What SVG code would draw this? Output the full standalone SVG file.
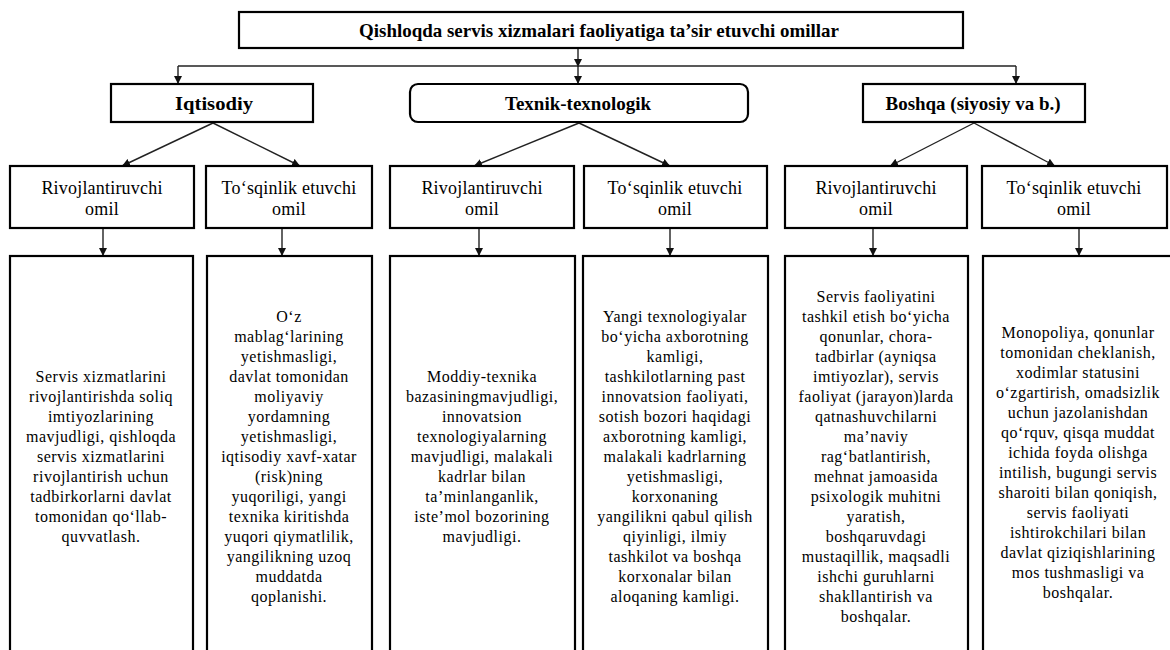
<svg xmlns="http://www.w3.org/2000/svg" width="1170" height="650" viewBox="0 0 1170 650">
<defs>
<marker id="ah" viewBox="0 0 10 10" refX="10" refY="5" markerWidth="8" markerHeight="8" markerUnits="userSpaceOnUse" orient="auto"><path d="M0,0 L10,5 L0,10 z" fill="#111"/></marker>
<style>
.box{fill:#fff;stroke:#000;stroke-width:2.2}
.hd{font-family:"Liberation Serif","Times New Roman",serif;font-weight:bold;font-size:19px;fill:#000;text-anchor:middle}
.lb{font-family:"Liberation Serif","Times New Roman",serif;font-size:18px;fill:#000;text-anchor:middle;letter-spacing:0.2px}
.tx{font-family:"Liberation Serif","Times New Roman",serif;font-size:16px;fill:#000;text-anchor:middle;letter-spacing:0.5px}
.cn{stroke:#222;stroke-width:1.4;fill:none}
</style>
</defs>
<rect width="1170" height="650" fill="#fff"/>

<g id="connectors">
<line class="cn" x1="578" y1="48" x2="578" y2="67" marker-end="url(#ah)"/>
<line class="cn" x1="178" y1="66" x2="1016" y2="66"/>
<line class="cn" x1="178" y1="66" x2="178" y2="84" marker-end="url(#ah)"/>
<line class="cn" x1="578" y1="66" x2="578" y2="84" marker-end="url(#ah)"/>
<line class="cn" x1="1016" y1="66" x2="1016" y2="84" marker-end="url(#ah)"/>
<line class="cn" x1="213" y1="123" x2="122" y2="166" marker-end="url(#ah)"/>
<line class="cn" x1="213" y1="123" x2="300" y2="166" marker-end="url(#ah)"/>
<line class="cn" x1="579" y1="123" x2="474" y2="166" marker-end="url(#ah)"/>
<line class="cn" x1="579" y1="123" x2="670" y2="166" marker-end="url(#ah)"/>
<line class="cn" x1="974" y1="123" x2="890" y2="166" marker-end="url(#ah)"/>
<line class="cn" x1="974" y1="123" x2="1055" y2="166" marker-end="url(#ah)"/>
<line class="cn" x1="103" y1="228" x2="103" y2="256" marker-end="url(#ah)"/>
<line class="cn" x1="282" y1="228" x2="282" y2="256" marker-end="url(#ah)"/>
<line class="cn" x1="479" y1="228" x2="479" y2="256" marker-end="url(#ah)"/>
<line class="cn" x1="670" y1="228" x2="670" y2="256" marker-end="url(#ah)"/>
<line class="cn" x1="873" y1="228" x2="873" y2="256" marker-end="url(#ah)"/>
<line class="cn" x1="1079" y1="228" x2="1079" y2="256" marker-end="url(#ah)"/>
</g>

<g id="title">
<rect class="box" x="239" y="12" width="724" height="36" stroke-width="2.6"/>
<text class="hd" x="599" y="37" textLength="480" lengthAdjust="spacingAndGlyphs">Qishloqda servis xizmalari  faoliyatiga ta’sir etuvchi omillar</text>
</g>

<g id="iqtisodiy">
<rect class="box" x="111" y="84" width="202" height="38" stroke-width="2.6"/>
<text class="hd" x="214" y="110" textLength="78" lengthAdjust="spacingAndGlyphs">Iqtisodiy</text>
</g>
<g id="texnik">
<rect class="box" x="410" y="84" width="338" height="38" rx="8" stroke-width="2.6"/>
<text class="hd" x="578" y="110" textLength="146" lengthAdjust="spacingAndGlyphs">Texnik-texnologik</text>
</g>
<g id="boshqa">
<rect class="box" x="863" y="84" width="222" height="38" stroke-width="2.6"/>
<text class="hd" x="973" y="110" textLength="175" lengthAdjust="spacingAndGlyphs">Boshqa (siyosiy va b.)</text>
</g>

<g id="l3-1"><rect class="box" x="10" y="166" width="184" height="62"/><text class="lb" x="102" y="194">Rivojlantiruvchi<tspan x="102" dy="21">omil</tspan></text></g>
<g id="l3-2"><rect class="box" x="206" y="166" width="166" height="62"/><text class="lb" x="289" y="194">To‘sqinlik etuvchi<tspan x="289" dy="21">omil</tspan></text></g>
<g id="l3-3"><rect class="box" x="390" y="166" width="184" height="62"/><text class="lb" x="482" y="194">Rivojlantiruvchi<tspan x="482" dy="21">omil</tspan></text></g>
<g id="l3-4"><rect class="box" x="584" y="166" width="183" height="62"/><text class="lb" x="675" y="194">To‘sqinlik etuvchi<tspan x="675" dy="21">omil</tspan></text></g>
<g id="l3-5"><rect class="box" x="785" y="166" width="182" height="62"/><text class="lb" x="876" y="194">Rivojlantiruvchi<tspan x="876" dy="21">omil</tspan></text></g>
<g id="l3-6"><rect class="box" x="982" y="166" width="185" height="62"/><text class="lb" x="1074" y="194">To‘sqinlik etuvchi<tspan x="1074" dy="21">omil</tspan></text></g>

<g id="t1"><rect class="box" x="10" y="256" width="183" height="410"/>
<text class="tx" x="101" y="382"><tspan x="101">Servis xizmatlarini</tspan><tspan x="101" dy="20">rivojlantirishda soliq</tspan><tspan x="101" dy="20">imtiyozlarining</tspan><tspan x="101" dy="20">mavjudligi, qishloqda</tspan><tspan x="101" dy="20">servis xizmatlarini</tspan><tspan x="101" dy="20">rivojlantirish uchun</tspan><tspan x="101" dy="20">tadbirkorlarni davlat</tspan><tspan x="101" dy="20">tomonidan qo‘llab-</tspan><tspan x="101" dy="20">quvvatlash.</tspan></text></g>

<g id="t2"><rect class="box" x="207" y="256" width="165" height="410"/>
<text class="tx" x="289" y="322"><tspan x="289">O‘z</tspan><tspan x="289" dy="20">mablag‘larining</tspan><tspan x="289" dy="20">yetishmasligi,</tspan><tspan x="289" dy="20">davlat tomonidan</tspan><tspan x="289" dy="20">moliyaviy</tspan><tspan x="289" dy="20">yordamning</tspan><tspan x="289" dy="20">yetishmasligi,</tspan><tspan x="289" dy="20">iqtisodiy xavf-xatar</tspan><tspan x="289" dy="20">(risk)ning</tspan><tspan x="289" dy="20">yuqoriligi, yangi</tspan><tspan x="289" dy="20">texnika kiritishda</tspan><tspan x="289" dy="20">yuqori qiymatlilik,</tspan><tspan x="289" dy="20">yangilikning uzoq</tspan><tspan x="289" dy="20">muddatda</tspan><tspan x="289" dy="20">qoplanishi.</tspan></text></g>

<g id="t3"><rect class="box" x="390" y="256" width="185" height="410"/>
<text class="tx" x="482" y="382"><tspan x="482">Moddiy-texnika</tspan><tspan x="482" dy="20">bazasiningmavjudligi,</tspan><tspan x="482" dy="20">innovatsion</tspan><tspan x="482" dy="20">texnologiyalarning</tspan><tspan x="482" dy="20">mavjudligi, malakali</tspan><tspan x="482" dy="20">kadrlar bilan</tspan><tspan x="482" dy="20">ta’minlanganlik,</tspan><tspan x="482" dy="20">iste’mol bozorining</tspan><tspan x="482" dy="20">mavjudligi.</tspan></text></g>

<g id="t4"><rect class="box" x="583" y="256" width="185" height="410"/>
<text class="tx" x="675" y="322"><tspan x="675">Yangi texnologiyalar</tspan><tspan x="675" dy="20">bo‘yicha axborotning</tspan><tspan x="675" dy="20">kamligi,</tspan><tspan x="675" dy="20">tashkilotlarning past</tspan><tspan x="675" dy="20">innovatsion faoliyati,</tspan><tspan x="675" dy="20">sotish bozori haqidagi</tspan><tspan x="675" dy="20">axborotning kamligi,</tspan><tspan x="675" dy="20">malakali kadrlarning</tspan><tspan x="675" dy="20">yetishmasligi,</tspan><tspan x="675" dy="20">korxonaning</tspan><tspan x="675" dy="20">yangilikni qabul qilish</tspan><tspan x="675" dy="20">qiyinligi, ilmiy</tspan><tspan x="675" dy="20">tashkilot va boshqa</tspan><tspan x="675" dy="20">korxonalar bilan</tspan><tspan x="675" dy="20">aloqaning kamligi.</tspan></text></g>

<g id="t5"><rect class="box" x="785" y="256" width="183" height="410"/>
<text class="tx" x="876" y="302"><tspan x="876">Servis faoliyatini</tspan><tspan x="876" dy="20">tashkil etish bo‘yicha</tspan><tspan x="876" dy="20">qonunlar, chora-</tspan><tspan x="876" dy="20">tadbirlar (ayniqsa</tspan><tspan x="876" dy="20">imtiyozlar), servis</tspan><tspan x="876" dy="20">faoliyat (jarayon)larda</tspan><tspan x="876" dy="20">qatnashuvchilarni</tspan><tspan x="876" dy="20">ma’naviy</tspan><tspan x="876" dy="20">rag‘batlantirish,</tspan><tspan x="876" dy="20">mehnat jamoasida</tspan><tspan x="876" dy="20">psixologik muhitni</tspan><tspan x="876" dy="20">yaratish,</tspan><tspan x="876" dy="20">boshqaruvdagi</tspan><tspan x="876" dy="20">mustaqillik, maqsadli</tspan><tspan x="876" dy="20">ishchi guruhlarni</tspan><tspan x="876" dy="20">shakllantirish va</tspan><tspan x="876" dy="20">boshqalar.</tspan></text></g>

<g id="t6"><rect class="box" x="983" y="256" width="200" height="410"/>
<text class="tx" x="1078" y="338"><tspan x="1078">Monopoliya, qonunlar</tspan><tspan x="1078" dy="20">tomonidan cheklanish,</tspan><tspan x="1078" dy="20">xodimlar statusini</tspan><tspan x="1078" dy="20">o‘zgartirish, omadsizlik</tspan><tspan x="1078" dy="20">uchun jazolanishdan</tspan><tspan x="1078" dy="20">qo‘rquv, qisqa muddat</tspan><tspan x="1078" dy="20">ichida foyda olishga</tspan><tspan x="1078" dy="20">intilish, bugungi servis</tspan><tspan x="1078" dy="20">sharoiti bilan qoniqish,</tspan><tspan x="1078" dy="20">servis faoliyati</tspan><tspan x="1078" dy="20">ishtirokchilari bilan</tspan><tspan x="1078" dy="20">davlat qiziqishlarining</tspan><tspan x="1078" dy="20">mos tushmasligi va</tspan><tspan x="1078" dy="20">boshqalar.</tspan></text></g>
</svg>
